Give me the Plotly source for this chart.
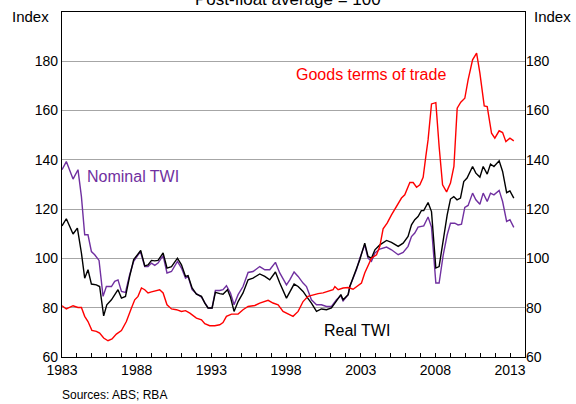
"""
Australian dollar TWI vs goods terms of trade
Post-float average = 100, quarterly
"""
import plotly.graph_objects as go

COLORS = {
    'tot': '#ff0000',
    'real': '#000000',
    'nominal': '#7030a0',
    'grid': '#a6a6a6',
    'text': '#000000',
}
FONT = 'Arial, Liberation Sans, sans-serif'

# Nominal TWI
nominal_years = [
    1983.00, 1983.29, 1983.74, 1984.07, 1984.30, 1984.52, 1984.74, 1984.97, 1985.19, 1985.48,
    1985.75, 1985.97, 1986.31, 1986.53, 1986.75, 1986.98, 1987.25, 1987.53, 1987.80, 1988.25,
    1988.54, 1988.76, 1988.99, 1989.21, 1989.43, 1989.77, 1990.03, 1990.33, 1990.73, 1991.00,
    1991.27, 1991.44, 1991.71, 1992.00, 1992.34, 1992.56, 1992.78, 1993.05, 1993.27, 1993.56,
    1993.78, 1994.01, 1994.28, 1994.52, 1994.79, 1995.12, 1995.46, 1995.79, 1996.24, 1996.58,
    1996.91, 1997.29, 1997.58, 1998.03, 1998.25, 1998.54, 1998.81, 1999.14, 1999.37, 1999.70,
    2000.04, 2000.37, 2000.71, 2001.04, 2001.38, 2001.67, 2001.82, 2002.16, 2002.27, 2002.49,
    2002.72, 2002.94, 2003.27, 2003.49, 2003.72, 2003.95, 2004.28, 2004.73, 2005.06, 2005.51,
    2005.84, 2006.17, 2006.40, 2006.62, 2006.84, 2007.22, 2007.51, 2007.74, 2008.03, 2008.25,
    2008.52, 2008.79, 2009.01, 2009.30, 2009.52, 2009.75, 2009.97, 2010.19, 2010.49, 2010.71,
    2010.98, 2011.20, 2011.47, 2011.69, 2011.92, 2012.27, 2012.50, 2012.77, 2012.99, 2013.25,
]
nominal_values = [
    136.0, 139.3, 132.2, 136.0, 125.1, 109.6, 109.6, 102.8, 101.5, 99.2,
    84.6, 88.6, 88.6, 90.7, 91.3, 86.6, 86.2, 93.4, 98.8, 102.8,
    96.7, 96.7, 98.1, 97.2, 98.1, 101.1, 94.1, 94.7, 98.8, 96.1,
    92.0, 92.7, 87.3, 85.7, 84.3, 81.9, 79.9, 79.9, 87.0, 87.0,
    87.3, 88.9, 86.0, 81.2, 85.3, 88.6, 94.3, 94.7, 96.7, 95.4,
    95.4, 98.4, 94.1, 89.3, 91.3, 94.5, 92.7, 90.0, 88.6, 83.2,
    81.2, 81.2, 80.5, 80.5, 83.2, 84.9, 82.8, 85.3, 88.6, 92.0,
    95.5, 100.1, 105.5, 100.1, 98.8, 102.2, 103.8, 104.6, 103.5, 101.5,
    102.4, 104.9, 108.9, 110.3, 112.7, 113.2, 116.8, 112.7, 90.0, 90.0,
    101.2, 109.6, 114.3, 114.3, 113.6, 113.9, 120.7, 121.5, 126.5, 123.8,
    122.0, 126.5, 123.1, 126.5, 125.8, 127.6, 123.1, 115.0, 115.7, 112.6,
]

# Real TWI
real_years = [
    1983.00, 1983.29, 1983.74, 1984.03, 1984.30, 1984.52, 1984.74, 1984.97, 1985.30, 1985.52,
    1985.79, 1986.00, 1986.31, 1986.75, 1986.98, 1987.25, 1987.53, 1987.80, 1988.27, 1988.54,
    1988.76, 1988.99, 1989.21, 1989.43, 1989.77, 1990.03, 1990.33, 1990.73, 1991.00, 1991.27,
    1991.44, 1991.71, 1992.00, 1992.34, 1992.56, 1992.78, 1993.05, 1993.27, 1993.56, 1993.78,
    1994.08, 1994.28, 1994.52, 1994.79, 1995.12, 1995.46, 1995.79, 1996.24, 1996.58, 1996.91,
    1997.29, 1997.58, 1998.03, 1998.25, 1998.54, 1998.81, 1999.14, 1999.37, 1999.70, 2000.04,
    2000.37, 2000.71, 2001.04, 2001.38, 2001.67, 2001.82, 2002.16, 2002.27, 2002.49, 2002.72,
    2002.94, 2003.27, 2003.49, 2003.72, 2003.95, 2004.28, 2004.73, 2005.06, 2005.51, 2005.84,
    2006.17, 2006.40, 2006.62, 2006.84, 2007.06, 2007.22, 2007.51, 2007.74, 2008.03, 2008.25,
    2008.52, 2008.79, 2009.01, 2009.23, 2009.45, 2009.68, 2009.90, 2010.12, 2010.49, 2010.71,
    2010.98, 2011.20, 2011.47, 2011.69, 2011.92, 2012.27, 2012.50, 2012.77, 2012.99, 2013.25,
]
real_values = [
    113.2, 116.1, 109.9, 112.3, 102.2, 92.0, 95.4, 89.6, 89.3, 88.6,
    76.7, 81.2, 83.2, 87.3, 83.9, 84.6, 92.7, 99.5, 103.2, 97.0,
    97.4, 99.2, 99.0, 99.2, 102.2, 96.1, 96.7, 100.1, 97.4, 92.7,
    93.0, 88.0, 85.5, 84.6, 81.9, 79.9, 79.9, 86.2, 85.7, 85.5,
    87.3, 84.3, 78.5, 82.5, 86.0, 91.3, 92.0, 93.7, 92.7, 91.3,
    94.5, 90.0, 83.9, 86.6, 89.6, 88.6, 86.6, 84.6, 81.9, 78.5,
    79.5, 79.2, 79.9, 82.8, 85.3, 83.2, 85.3, 88.6, 92.0, 95.8,
    99.5, 106.2, 100.8, 100.1, 103.5, 105.5, 107.3, 106.5, 104.9, 106.2,
    108.9, 113.6, 115.7, 117.0, 119.4, 119.4, 122.7, 119.0, 96.1, 96.7,
    108.0, 117.7, 124.1, 125.1, 123.8, 124.5, 131.2, 132.6, 137.3, 134.6,
    133.0, 137.3, 134.2, 138.3, 137.3, 139.6, 135.3, 126.7, 127.4, 124.5,
]

# Goods terms of trade
tot_years = [
    1983.00, 1983.29, 1983.74, 1984.07, 1984.30, 1984.52, 1984.74, 1985.00, 1985.30, 1985.52,
    1985.79, 1986.08, 1986.35, 1986.64, 1986.98, 1987.31, 1987.65, 1987.87, 1988.09, 1988.32,
    1988.54, 1988.76, 1988.99, 1989.32, 1989.54, 1989.77, 1990.03, 1990.33, 1990.66, 1991.00,
    1991.27, 1991.56, 1992.00, 1992.34, 1992.56, 1992.89, 1993.23, 1993.56, 1993.78, 1994.01,
    1994.35, 1994.79, 1995.12, 1995.46, 1995.91, 1996.24, 1996.80, 1997.13, 1997.47, 1997.80,
    1998.14, 1998.47, 1998.81, 1999.14, 1999.47, 1999.81, 2000.15, 2000.48, 2000.82, 2001.15,
    2001.27, 2001.49, 2001.82, 2002.16, 2002.49, 2002.72, 2003.05, 2003.27, 2003.50, 2003.72,
    2004.06, 2004.28, 2004.50, 2004.77, 2005.06, 2005.40, 2005.73, 2005.95, 2006.29, 2006.51,
    2006.74, 2006.96, 2007.18, 2007.36, 2007.51, 2007.74, 2008.03, 2008.25, 2008.48, 2008.75,
    2009.01, 2009.24, 2009.46, 2009.70, 2009.97, 2010.19, 2010.49, 2010.76, 2010.98, 2011.27,
    2011.47, 2011.76, 2011.98, 2012.27, 2012.50, 2012.72, 2012.99, 2013.25,
]
tot_values = [
    80.8, 79.5, 80.8, 80.1, 80.1, 76.5, 74.4, 70.8, 70.4, 69.7,
    67.7, 66.6, 67.3, 69.3, 70.7, 74.4, 79.9, 83.2, 84.6, 88.0,
    87.3, 86.0, 86.4, 87.0, 87.3, 86.0, 81.2, 79.5, 79.2, 78.5,
    78.8, 77.8, 75.8, 75.1, 73.5, 72.7, 72.7, 73.1, 74.0, 76.5,
    77.4, 77.4, 79.2, 80.5, 80.9, 81.9, 83.0, 81.9, 81.2, 78.5,
    77.6, 76.5, 78.5, 82.5, 84.6, 85.3, 85.7, 86.0, 86.6, 87.3,
    88.6, 87.3, 88.0, 88.2, 87.5, 88.4, 90.0, 94.1, 97.4, 100.1,
    101.5, 104.9, 112.0, 114.3, 117.7, 121.1, 124.5, 125.8, 130.8, 130.8,
    128.9, 129.9, 132.9, 141.4, 148.1, 162.7, 163.2, 145.4, 129.9, 127.0,
    130.6, 137.3, 161.0, 163.4, 165.0, 172.5, 180.6, 183.3, 175.2, 161.9,
    161.6, 150.8, 148.8, 151.8, 151.1, 147.4, 148.8, 147.7,
]

y_ticks = [60, 80, 100, 120, 140, 160, 180]
x_ticks = [1983, 1988, 1993, 1998, 2003, 2008, 2013]

fig = go.Figure()

fig.add_trace(go.Scatter(
    x=tot_years, y=tot_values, mode='lines', name='Goods terms of trade',
    line=dict(color=COLORS['tot'], width=1.4), yaxis='y2'
))
fig.add_trace(go.Scatter(
    x=nominal_years, y=nominal_values, mode='lines', name='Nominal TWI',
    line=dict(color=COLORS['nominal'], width=1.4)
))
fig.add_trace(go.Scatter(
    x=real_years, y=real_values, mode='lines', name='Real TWI',
    line=dict(color=COLORS['real'], width=1.4)
))

axis_font = dict(family=FONT, size=14, color=COLORS['text'])

fig.update_layout(
    width=576,
    height=404,
    plot_bgcolor='white',
    paper_bgcolor='white',
    showlegend=False,
    margin=dict(l=62, r=51, t=12, b=47),
    font=dict(family=FONT, color=COLORS['text'], size=14),
    xaxis=dict(
        range=[1983, 2014],
        tickvals=x_ticks,
        ticktext=[str(v) for v in x_ticks],
        ticks='inside', ticklen=4, tickcolor='black',
        minor=dict(dtick=1, tick0=1983, ticks='inside', ticklen=4, tickcolor='black'),
        showgrid=False, zeroline=False,
        showline=True, linecolor='black', linewidth=1.2, mirror=True,
        tickfont=axis_font,
    ),
    yaxis=dict(
        range=[60, 200],
        tickvals=y_ticks,
        ticks='', showgrid=True, gridcolor=COLORS['grid'], gridwidth=1,
        zeroline=False,
        showline=True, linecolor='black', linewidth=1.2, mirror=True,
        tickfont=axis_font,
    ),
    yaxis2=dict(
        range=[60, 200],
        tickvals=y_ticks,
        overlaying='y', side='right',
        ticks='', showgrid=False, zeroline=False,
        tickfont=axis_font,
    ),
    annotations=[
        dict(text='Post-float average = 100', xref='paper', yref='paper',
             x=0.488, y=1.036, xanchor='center', yanchor='middle',
             showarrow=False, font=dict(size=17)),
        dict(text='Index', xref='paper', yref='paper', x=-0.069, y=0.986,
             xanchor='center', yanchor='middle', showarrow=False, font=dict(size=15)),
        dict(text='Index', xref='paper', yref='paper', x=1.060, y=0.986,
             xanchor='center', yanchor='middle', showarrow=False, font=dict(size=15)),
        dict(text='Goods terms of trade', xref='x', yref='y', x=2003.7, y=174.5,
             showarrow=False, font=dict(size=16, color=COLORS['tot'])),
        dict(text='Nominal TWI', xref='x', yref='y', x=1987.74, y=133.1,
             showarrow=False, font=dict(size=16, color=COLORS['nominal'])),
        dict(text='Real TWI', xref='x', yref='y', x=2002.74, y=70.7,
             showarrow=False, font=dict(size=16, color=COLORS['real'])),
        dict(text='Sources: ABS; RBA', xref='paper', yref='paper', x=-0.004, y=-0.110,
             xanchor='left', yanchor='middle', showarrow=False, font=dict(size=12)),
    ],
)

# drop the default page margin so the figure sits at the window's top-left corner
fig.write_html("out.html", config={'displayModeBar': False},
               post_script="document.body.style.margin = '0px';")
